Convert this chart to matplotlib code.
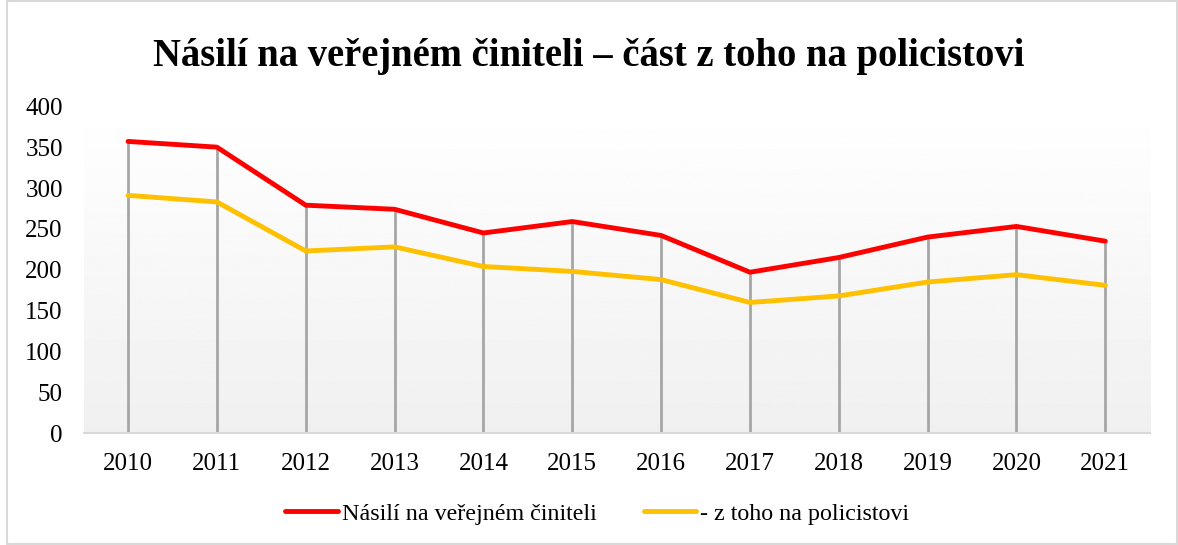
import matplotlib.pyplot as plt
import numpy as np

years = ['2010', '2011', '2012', '2013', '2014', '2015',
         '2016', '2017', '2018', '2019', '2020', '2021']
nasili = [357, 350, 279, 274, 245, 259, 242, 197, 215, 240, 253, 235]
policiste = [291, 283, 223, 228, 204, 198, 188, 160, 168, 185, 194, 181]

plt.rcParams['font.family'] = ['Liberation Serif', 'DejaVu Serif']

fig = plt.figure(figsize=(11.78, 5.45), dpi=100)
ax = fig.add_axes([0.071, 0.205, 0.905, 0.60])

x = np.arange(len(years))

# gradient plot background, white at top to light gray at bottom
grad = np.linspace(1.0, 0.94, 256).reshape(-1, 1)
ax.imshow(grad, cmap='gray', vmin=0, vmax=1, aspect='auto',
          extent=[0, 1, 0, 1], transform=ax.transAxes, zorder=0)

# drop lines
ax.vlines(x, 0, nasili, color='#a6a6a6', lw=2, zorder=1)

ax.plot(x, nasili, color='#ff0000', lw=3.5, solid_capstyle='round',
        label='Násilí na veřejném činiteli', zorder=3)
ax.plot(x, policiste, color='#ffc000', lw=3.5, solid_capstyle='round',
        label='- z toho na policistovi', zorder=2)

ax.set_xlim(-0.5, len(years) - 0.5)
ax.set_ylim(0, 400)
ax.set_yticks(np.arange(0, 401, 50))
ax.set_xticks(x)
ax.set_xticklabels(years)
ax.tick_params(axis='both', length=0, labelsize=18)
ax.tick_params(axis='x', pad=14)
ax.tick_params(axis='y', pad=15)

for s in ['top', 'right', 'left']:
    ax.spines[s].set_visible(False)
ax.spines['bottom'].set_color('#d9d9d9')
ax.spines['bottom'].set_linewidth(1.5)

fig.suptitle('Násilí na veřejném činiteli – část z toho na policistovi',
             fontsize=27.8, fontweight='bold', y=0.93)

fig.legend(loc='center', bbox_to_anchor=(0.507, 0.057), ncol=2, frameon=False,
           fontsize=17.3, handlelength=2.2, columnspacing=1.95, handletextpad=0.15)

# figure border
fig.patches.append(plt.Rectangle((0.006, 0.001), 0.993, 0.998, transform=fig.transFigure,
                                 fill=False, edgecolor='#d9d9d9', lw=1.5))

fig.savefig('out.png', dpi=100)
